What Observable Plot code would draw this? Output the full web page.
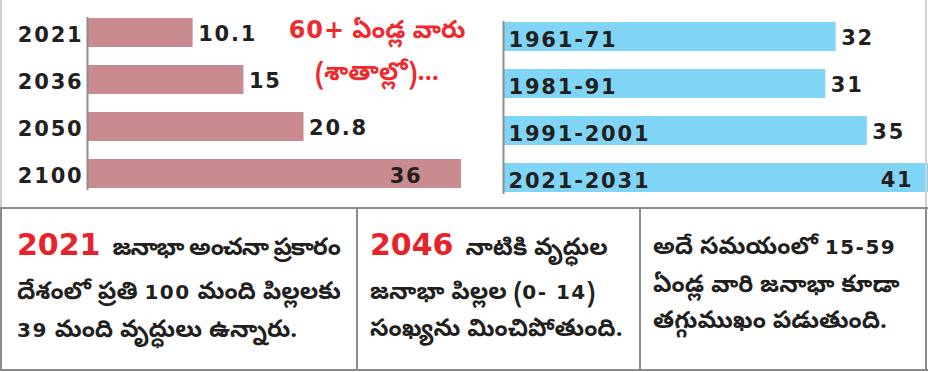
<!DOCTYPE html>
<html><head><meta charset="utf-8">
<script src="https://cdn.jsdelivr.net/npm/d3@7"></script>
<script src="https://cdn.jsdelivr.net/npm/@observablehq/plot@0.6"></script>
<style>
html,body{margin:0;padding:0;background:#fff}
body{width:928px;height:372px;overflow:hidden;position:relative;font-family:"DejaVu Sans","Noto Sans",sans-serif;color:#231f20}
.abs{position:absolute}
.vline{position:absolute;width:2px;background:#8c8c8c}
.hline{position:absolute;height:2px;background:#8c8c8c}
.line{position:absolute;white-space:nowrap;font-size:24px;font-weight:bold;line-height:1;font-family:"Noto Sans Telugu","Noto Sans","DejaVu Sans",sans-serif;color:#231f20}
.big{font-family:"DejaVu Sans",sans-serif;font-weight:bold;font-size:30px;color:#e8222b;margin-right:12px;letter-spacing:0}
.num{font-family:"DejaVu Sans",sans-serif;font-weight:bold;font-size:20px;letter-spacing:1.5px}
#title{position:absolute;left:262px;width:230px;top:9px;text-align:center;color:#ee2a2e;font-size:25px;font-weight:bold;line-height:42px;font-family:"Noto Sans Telugu","Noto Sans","DejaVu Sans",sans-serif}
#title .n{font-family:"DejaVu Sans",sans-serif;font-size:24px;letter-spacing:1px}
svg text{letter-spacing:1.8px}
</style></head><body>
<div id="left" class="abs" style="left:0;top:0"></div>
<div id="right" class="abs" style="left:470px;top:0"></div>
<div id="title"></div>
<div id="boxes"></div>
<script>
// Data
const elderYears = ["2021", "2036", "2050", "2100"];
const elderShare = [10.1, 15, 20.8, 36];
const decades = ["1961-71", "1981-91", "1991-2001", "2021-2031"];
const decadeValues = [32, 31, 35, 41];
const titleLines = ["60+ ఏండ్ల వారు", "(శాతాల్లో)..."];
const box1Lead = "2021";
const box1Lines = ["జనాభా అంచనా ప్రకారం", "దేశంలో ప్రతి 100 మంది పిల్లలకు", "39 మంది వృద్ధులు ఉన్నారు."];
const box2Lead = "2046";
const box2Lines = ["నాటికి వృద్ధుల", "జనాభా పిల్లల (0- 14)", "సంఖ్యను మించిపోతుంది."];
const box3Lines = ["అదే సమయంలో 15-59", "ఏండ్ల వారి జనాభా కూడా", "తగ్గుముఖం పడుతుంది."];

const leftData = elderYears.map((y, i) => ({y, v: elderShare[i]}));
const rightData = decades.map((y, i) => ({y, v: decadeValues[i]}));
const leftMax = d3.max(elderShare), rightMax = d3.max(decadeValues);

const fontStyle = {fontFamily: "DejaVu Sans, sans-serif", fontSize: "21px", fontWeight: "bold", color: "#231f20", background: "transparent", overflow: "visible"};

const left = Plot.plot({
  width: 470, height: 200,
  marginLeft: 88, marginRight: 9, marginTop: 17, marginBottom: 10,
  style: fontStyle,
  x: {domain: [0, 36], axis: null},
  y: {domain: elderYears, paddingInner: 0.375, paddingOuter: 0, label: null},
  marks: [
    Plot.barX(leftData, {x: "v", y: "y", fill: "#c98b8f"}),
    Plot.ruleX([0], {stroke: "#8c8c8c", strokeWidth: 2, dx: -1}),
    Plot.axisY({tickSize: 0, tickPadding: 5, fontSize: 21, dy: 2, label: null}),
    Plot.text(leftData.filter(d => d.v < leftMax), {x: "v", y: "y", text: "v", textAnchor: "start", dx: 5, dy: 1, fontSize: 21}),
    Plot.text(leftData.filter(d => d.v === leftMax), {x: "v", y: "y", text: "v", textAnchor: "end", dx: -39, dy: 2, fontSize: 21})
  ]
});
document.getElementById("left").append(left);

const right = Plot.plot({
  width: 458, height: 200,
  marginLeft: 34, marginRight: 0, marginTop: 21, marginBottom: 6,
  style: fontStyle,
  x: {domain: [0, 41], range: [34, 459], axis: null},
  y: {domain: decades, paddingInner: 0.375, paddingOuter: 0, axis: null},
  marks: [
    Plot.barX(rightData, {x: "v", y: "y", fill: "#80d5f7"}),
    Plot.ruleX([0], {stroke: "#8c8c8c", strokeWidth: 2, dx: -1}),
    Plot.text(rightData, {x: 0, y: "y", text: "y", textAnchor: "start", dx: 4, dy: 3, fontSize: 21}),
    Plot.text(rightData.filter(d => d.v < rightMax), {x: "v", y: "y", text: "v", textAnchor: "start", dx: 5, dy: 1, fontSize: 21}),
    Plot.text(rightData.filter(d => d.v === rightMax), {x: "v", y: "y", text: "v", textAnchor: "end", dx: -16, dy: 2, fontSize: 21})
  ]
});
document.getElementById("right").append(right);

document.getElementById("title").innerHTML = titleLines
  .map(t => `<div>${t.replace(/(60\+)/, '<span class="n">$1</span>')}</div>`).join("");

// Bottom boxes and frame lines
const boxes = document.getElementById("boxes");
const add = (html) => boxes.insertAdjacentHTML("beforeend", html);
add(`<div class="abs" style="left:0;top:0;width:2px;height:208px;background:#d0d0d0"></div>`);
add(`<div class="abs" style="left:925px;top:0;width:2px;height:208px;background:#d0d0d0"></div>`);
add(`<div class="hline" style="left:0;top:207px;width:928px"></div>`);
add(`<div class="hline" style="left:0;top:369px;width:928px"></div>`);
add(`<div class="vline" style="left:0;top:207px;height:164px"></div>`);
add(`<div class="vline" style="left:356px;top:207px;height:164px"></div>`);
add(`<div class="vline" style="left:639px;top:207px;height:164px"></div>`);
add(`<div class="vline" style="left:925px;top:207px;height:164px"></div>`);

function lines(x, tops, arr, lead, firstSpacing) {
  arr.forEach((t, i) => {
    const body = t.replace(/([0-9][0-9\-\s]*[0-9]|[0-9]+)/g, '<span class="num">$1</span>');
    const pre = (i === 0 && lead) ? `<span class="big">${lead}</span>` : "";
    const ls = (i === 0 && firstSpacing) ? `letter-spacing:${firstSpacing}px;` : "";
    add(`<div class="line" style="left:${x}px;top:${tops[i]}px;${ls}">${pre}${body}</div>`);
  });
}
lines(17, [230, 282, 320], box1Lines, box1Lead, -1.2);
lines(370, [230, 282, 320], box2Lines, box2Lead, 0);
lines(653, [237, 276, 312], box3Lines, null, 0);
</script>
</body></html>
